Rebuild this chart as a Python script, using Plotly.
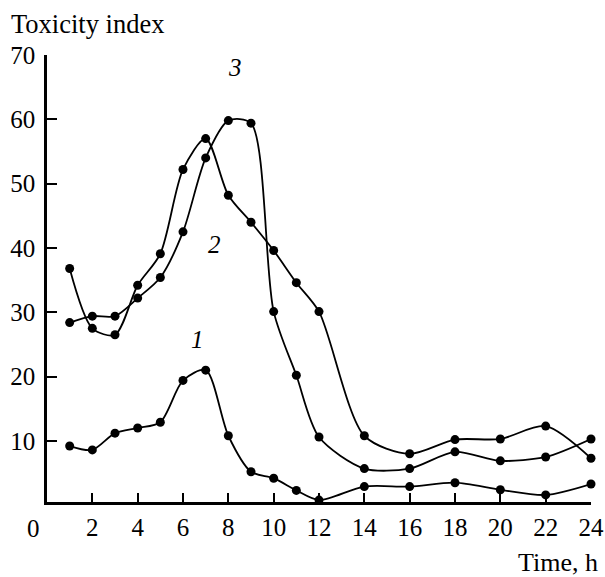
import plotly.graph_objects as go

hours = [1, 2, 3, 4, 5, 6, 7, 8, 9, 10, 11, 12, 14, 16, 18, 20, 22, 24]
curve1 = [9.2, 8.6, 11.2, 12.0, 12.9, 19.4, 21.0, 10.8, 5.2, 4.2, 2.3, 0.8, 2.9, 2.9, 3.5, 2.4, 1.6, 3.3]
curve2 = [36.8, 27.5, 26.5, 34.2, 39.1, 52.2, 57.0, 48.2, 44.0, 39.6, 34.6, 30.1, 10.8, 8.0, 10.2, 10.3, 12.3, 7.3]
curve3 = [28.4, 29.4, 29.4, 32.2, 35.4, 42.5, 54.0, 59.8, 59.4, 30.1, 20.2, 10.6, 5.7, 5.7, 8.3, 6.9, 7.5, 10.3]

curve_labels = ["1", "2", "3"]
label_x = [6.65, 7.4, 8.3]
label_y = [25.8, 40.5, 68.0]

x_ticks = [2, 4, 6, 8, 10, 12, 14, 16, 18, 20, 22, 24]
y_ticks = [10, 20, 30, 40, 50, 60, 70]

FONT = "Liberation Serif"
FS = 25
fig = go.Figure()
for ys in (curve1, curve2, curve3):
    fig.add_trace(go.Scatter(
        x=hours, y=ys, mode="lines+markers",
        line=dict(color="black", width=1.8, shape="spline", smoothing=0.8),
        marker=dict(color="black", size=9),
        cliponaxis=False, showlegend=False,
    ))

for t, lx, ly in zip(curve_labels, label_x, label_y):
    fig.add_annotation(x=lx, y=ly, text=f"<i>{t}</i>", showarrow=False,
                       font=dict(family=FONT, size=FS, color="black"))

fig.add_annotation(xref="paper", yref="paper", x=0, xshift=-5, y=0, yshift=-26,
                   text="0", showarrow=False, xanchor="right", yanchor="middle",
                   font=dict(family=FONT, size=FS, color="black"))
fig.add_annotation(xref="paper", yref="paper", x=0, xshift=-38, y=1, yshift=31,
                   text="Toxicity index", showarrow=False, xanchor="left", yanchor="middle",
                   font=dict(family=FONT, size=26.5, color="black"))
fig.add_annotation(xref="paper", yref="paper", x=1, xshift=9, y=0, yshift=-60,
                   text="Time, h", showarrow=False, xanchor="right", yanchor="middle",
                   font=dict(family=FONT, size=26, color="black"))

fig.update_layout(
    width=605, height=577,
    margin=dict(l=47, r=14, t=55, b=75, autoexpand=False),
    paper_bgcolor="white", plot_bgcolor="white",
    font=dict(family=FONT, size=FS, color="black"),
    xaxis=dict(range=[0, 24], tickvals=x_ticks, ticks="inside", ticklen=9, tickwidth=2,
               tickcolor="black", showline=True, linecolor="black", linewidth=2.5,
               showgrid=False, zeroline=False, ticklabelstandoff=1, automargin=False),
    yaxis=dict(range=[0.5, 70], tickvals=y_ticks, ticks="inside", ticklen=10, tickwidth=2,
               tickcolor="black", showline=True, linecolor="black", linewidth=2.5,
               showgrid=False, zeroline=False, ticklabelstandoff=4, automargin=False),
)

fig.write_html(
    "out.html",
    config={"displayModeBar": False},
    post_script="document.body.style.margin='0';document.body.style.overflow='hidden';",
)
